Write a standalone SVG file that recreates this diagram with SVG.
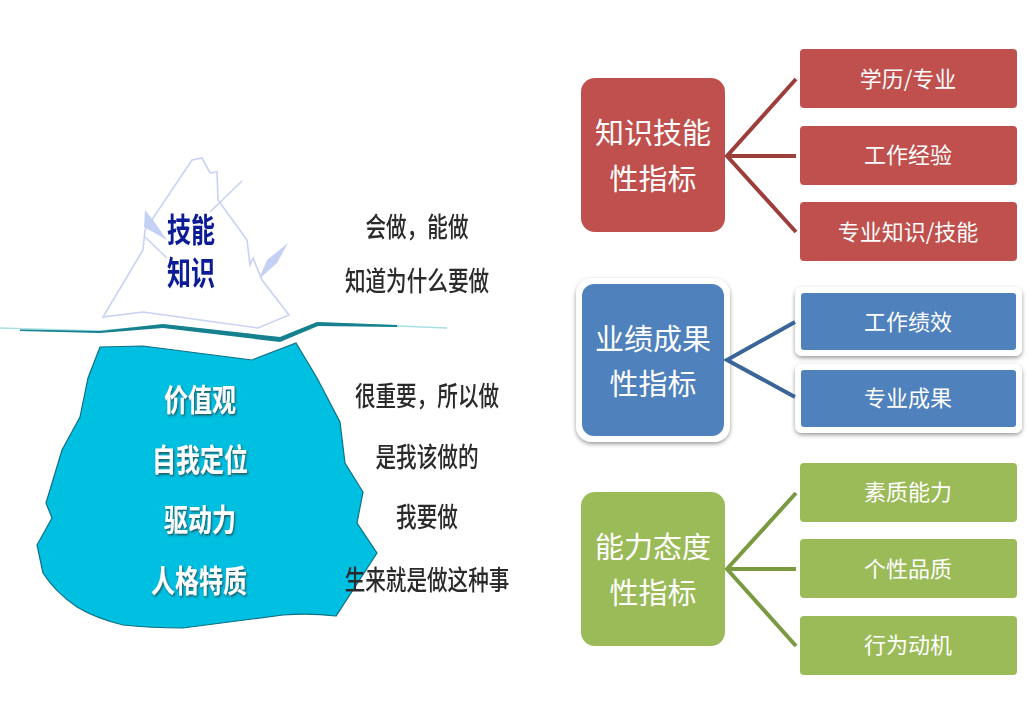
<svg xmlns="http://www.w3.org/2000/svg" width="1029" height="724" viewBox="0 0 1029 724">
<style>
text{font-family:"Noto Sans CJK SC","Noto Sans",sans-serif;text-anchor:middle}
.main{font-size:29px;fill:#fff}
.sub{font-size:22px;fill:#fff}
.top{font-size:24px;font-weight:700;fill:#0a1e96}
.in{font-size:24px;font-weight:700;fill:#fff}
.note{font-size:20.6px;font-weight:500;fill:#2a2a2a}
.r{fill:#c0504d}.b{fill:#4f81bd}.g{fill:#9bbb59}
.halo{fill:#fff;filter:url(#sh)}
.lr{stroke:#9c3e3b;stroke-width:4;fill:none}
.lb{stroke:#3a6598;stroke-width:4;fill:none}
.lg{stroke:#7a9a42;stroke-width:4;fill:none}
</style>
<defs>
<filter id="sh" x="-15%" y="-15%" width="130%" height="130%"><feDropShadow dx="0" dy="2" stdDeviation="2" flood-color="#000" flood-opacity=".4"/></filter>
<filter id="bl" x="-5%" y="-5%" width="110%" height="110%"><feGaussianBlur stdDeviation=".6"/></filter>
<filter id="ts" x="-10%" y="-10%" width="120%" height="120%"><feGaussianBlur stdDeviation=".5" result="b"/><feDropShadow in="b" dx="1" dy="1.5" stdDeviation=".8" flood-color="#333" flood-opacity=".8"/></filter>
</defs>
<rect width="1029" height="724" fill="#fff"/>

<g id="iceberg-top" filter="url(#bl)">
<path d="M103,317L143,250L145,230L192,160L202,158L210,173L217,172L218,200L247,240L250,265L253,258L262,280L289,315L258,328L143,312Z" fill="#fff" stroke="#c8d2f4" stroke-width="1.6"/>
<path d="M145,210L153,220L167,240L144,227Z" fill="#c5d0f5"/>
<path d="M259,279L267,260L288,243L277,263Z" fill="#c5d0f5"/>
<path d="M145,237L167,258M210,212L242,181" stroke="#c8d2f4" stroke-width="1.6" fill="none"/>
</g>
<g id="waterline" filter="url(#bl)">
<path d="M0,328L100,331L163,325L280,338L317,323L397,326L447,328" stroke="#a8e0e4" stroke-width="1.5" fill="none"/>
<path d="M20,329.5L100,331L163,324L280,337L317,322L397,325L397,327L318,326L280,342L163,328L100,333L20,331Z" fill="#12808f"/>
</g>
<g id="iceberg-bottom" filter="url(#bl)">
<path d="M100,347L143,346L252,360L296,343L317,378L340,422L345,463L363,492L357,523L377,553L336,616Q310,613 283,615Q230,622 183,628Q150,628 123,625Q95,618 77,607Q55,592 43,573L37,545L52,518L46,503L62,450L80,417L88,378Z" fill="#00c0e2" stroke="#0d6f84" stroke-width="1.2"/>
</g>

<g id="iceberg-labels">
<g filter="url(#bl)">
<text class="top" transform="translate(191,242) scale(1,1.35)">技能</text>
<text class="top" transform="translate(191,285) scale(1,1.35)">知识</text>
</g>
<g filter="url(#ts)">
<text class="in" transform="translate(200,411) scale(1,1.3)">价值观</text>
<text class="in" transform="translate(200,471) scale(1,1.3)">自我定位</text>
<text class="in" transform="translate(200,531) scale(1,1.3)">驱动力</text>
<text class="in" transform="translate(199,592) scale(1,1.3)">人格特质</text>
</g>
<g filter="url(#bl)">
<text class="note" transform="translate(417,237) scale(1,1.3)">会做，能做</text>
<text class="note" transform="translate(417,291) scale(1,1.3)">知道为什么要做</text>
<text class="note" transform="translate(427,406) scale(1,1.3)">很重要，所以做</text>
<text class="note" transform="translate(427,467) scale(1,1.3)">是我该做的</text>
<text class="note" transform="translate(427,527) scale(1,1.3)">我要做</text>
<text class="note" transform="translate(427,590) scale(1,1.3)">生来就是做这种事</text>
</g>
</g>

<g id="n-knowledge"><rect class="r" x="581" y="78" width="144" height="154" rx="14"/><text class="main" x="653" y="144">知识技能</text><text class="main" x="653" y="190">性指标</text></g>
<g id="n-edu"><rect class="r" x="800" y="49" width="217" height="59" rx="4"/><text class="sub" x="908" y="87">学历/专业</text></g>
<g id="n-exp"><rect class="r" x="800" y="126" width="217" height="59" rx="4"/><text class="sub" x="908" y="163">工作经验</text></g>
<g id="n-skill"><rect class="r" x="800" y="202" width="217" height="59" rx="4"/><text class="sub" x="908" y="240">专业知识/技能</text></g>

<g id="n-perf"><rect class="halo" x="576" y="278" width="154" height="164" rx="16"/><rect class="b" x="582" y="284" width="142" height="152" rx="12"/><text class="main" x="653" y="350">业绩成果</text><text class="main" x="653" y="395">性指标</text></g>
<g id="n-work"><rect class="halo" x="795" y="287" width="227" height="69" rx="7"/><rect class="b" x="801" y="293" width="215" height="57" rx="3"/><text class="sub" x="908" y="330">工作绩效</text></g>
<g id="n-result"><rect class="halo" x="795" y="364" width="227" height="69" rx="7"/><rect class="b" x="801" y="370" width="215" height="57" rx="3"/><text class="sub" x="908" y="406">专业成果</text></g>

<g id="n-ability"><rect class="g" x="581" y="492" width="144" height="154" rx="14"/><text class="main" x="653" y="558">能力态度</text><text class="main" x="653" y="604">性指标</text></g>
<g id="n-quality"><rect class="g" x="800" y="463" width="217" height="59" rx="4"/><text class="sub" x="908" y="500">素质能力</text></g>
<g id="n-person"><rect class="g" x="800" y="539" width="217" height="59" rx="4"/><text class="sub" x="908" y="577">个性品质</text></g>
<g id="n-motive"><rect class="g" x="800" y="616" width="217" height="59" rx="4"/><text class="sub" x="908" y="653">行为动机</text></g>

<g id="connectors">
<path class="lr" d="M796,79L727,156L796,232M727,156H796"/>
<path class="lb" d="M795,322L727,360L795,397"/>
<path class="lg" d="M796,493L727,569L796,646M727,569H796"/>
</g>
</svg>
